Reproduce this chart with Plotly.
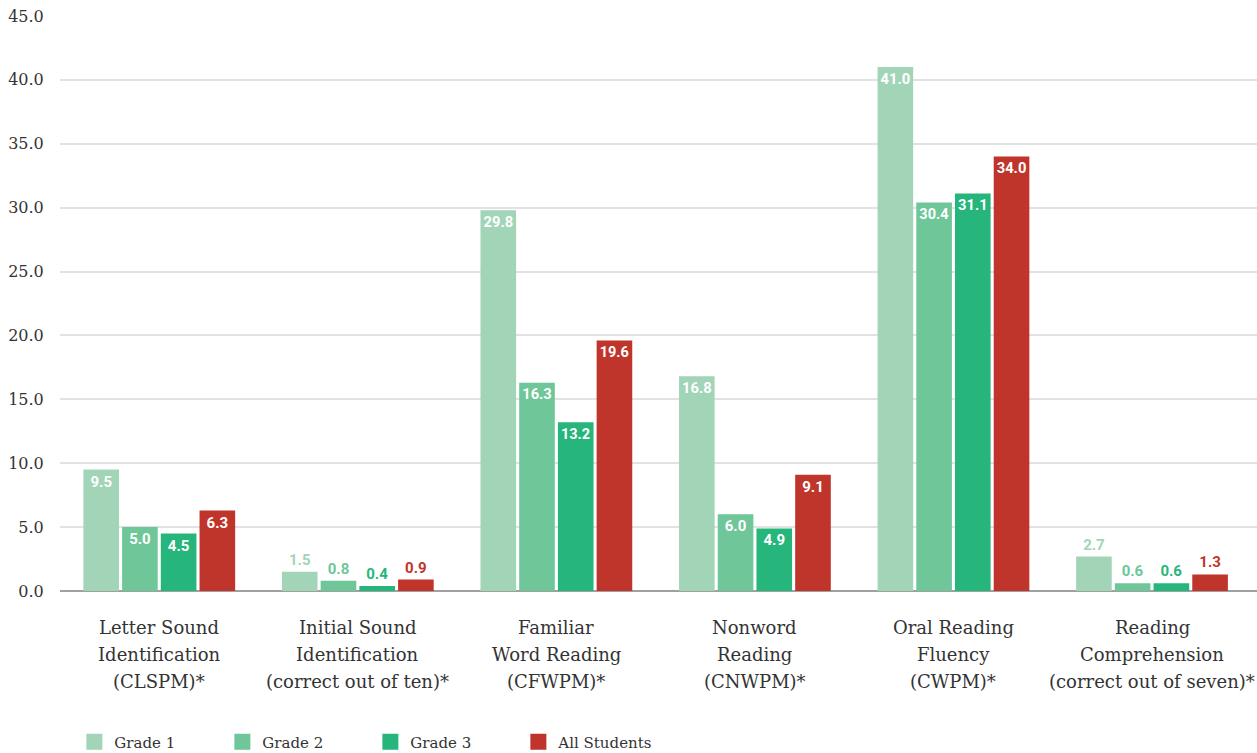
import plotly.graph_objects as go

categories = [
    "Letter Sound Identification (CLSPM)*",
    "Initial Sound Identification (correct out of ten)*",
    "Familiar Word Reading (CFWPM)*",
    "Nonword Reading (CNWPM)*",
    "Oral Reading Fluency (CWPM)*",
    "Reading Comprehension (correct out of seven)*",
]
category_lines = [
    ["Letter Sound", "Identification", "(CLSPM)*"],
    ["Initial Sound", "Identification", "(correct out of ten)*"],
    ["Familiar", "Word Reading", "(CFWPM)*"],
    ["Nonword", "Reading", "(CNWPM)*"],
    ["Oral Reading", "Fluency", "(CWPM)*"],
    ["Reading", "Comprehension", "(correct out of seven)*"],
]
series_names = ["Grade 1", "Grade 2", "Grade 3", "All Students"]
grade1 = [9.5, 1.5, 29.8, 16.8, 41.0, 2.7]
grade2 = [5.0, 0.8, 16.3, 6.0, 30.4, 0.6]
grade3 = [4.5, 0.4, 13.2, 4.9, 31.1, 0.6]
all_students = [6.3, 0.9, 19.6, 9.1, 34.0, 1.3]
y_ticks = [0, 5, 10, 15, 20, 25, 30, 35, 40, 45]

colors = ["#a2d5b7", "#6ec699", "#26b67c", "#c0352b"]
serif = "Roboto Slab, DejaVu Serif, serif"

fig = go.Figure()
for name, vals, col in zip(series_names, [grade1, grade2, grade3, all_students], colors):
    fig.add_trace(go.Bar(
        name=name, x=categories, y=vals,
        marker=dict(color=col, line=dict(width=0)),
        text=[f"{v:.1f}" for v in vals],
        textposition=["inside" if v > 3 else "outside" for v in vals],
        insidetextanchor="end",
        insidetextfont=dict(family="Roboto", size=15, color="white", weight="bold"),
        outsidetextfont=dict(family="Roboto", size=15, color=col, weight="bold"),
        cliponaxis=False,
        textangle=0,
        showlegend=False,
    ))
    fig.add_trace(go.Scatter(
        name=name, x=[None], y=[None], mode="markers",
        marker=dict(symbol="square", size=20, color=col),
        showlegend=True,
    ))

for cat, lines in zip(categories, category_lines):
    for i, line in enumerate(lines):
        fig.add_annotation(
            x=cat, xref="x", y=0, yref="paper", yanchor="middle",
            yshift=-(36 + 27 * i), text=line, showarrow=False,
            font=dict(family=serif, size=18, color="#333333"),
        )

fig.update_layout(
    width=1257, height=753,
    margin=dict(l=60, r=0, t=16, b=162, autoexpand=False),
    paper_bgcolor="white", plot_bgcolor="white",
    barmode="group", bargap=0.22, bargroupgap=0.08,
    font=dict(family=serif, color="#333333"),
    legend=dict(
        orientation="h", x=0.012, xref="paper", y=0.0146, yref="container",
        yanchor="middle",
        font=dict(family=serif, size=15, color="#333333"),
        entrywidth=103, entrywidthmode="pixels", itemsizing="trace",
    ),
)
fig.update_xaxes(
    showticklabels=False,
    showgrid=False, showline=False, zeroline=False,
)
fig.update_yaxes(
    range=[0, 45], tickvals=y_ticks, tickformat=".1f",
    tickfont=dict(family=serif, size=16, color="#333333"),
    showgrid=True, gridcolor="#e2e2e2", gridwidth=1.5,
    zeroline=True, zerolinecolor="#a0a0a0", zerolinewidth=2,
    showline=False,
    ticks="outside", ticklen=12, tickcolor="rgba(0,0,0,0)",
)
fig.write_html("out.html")
